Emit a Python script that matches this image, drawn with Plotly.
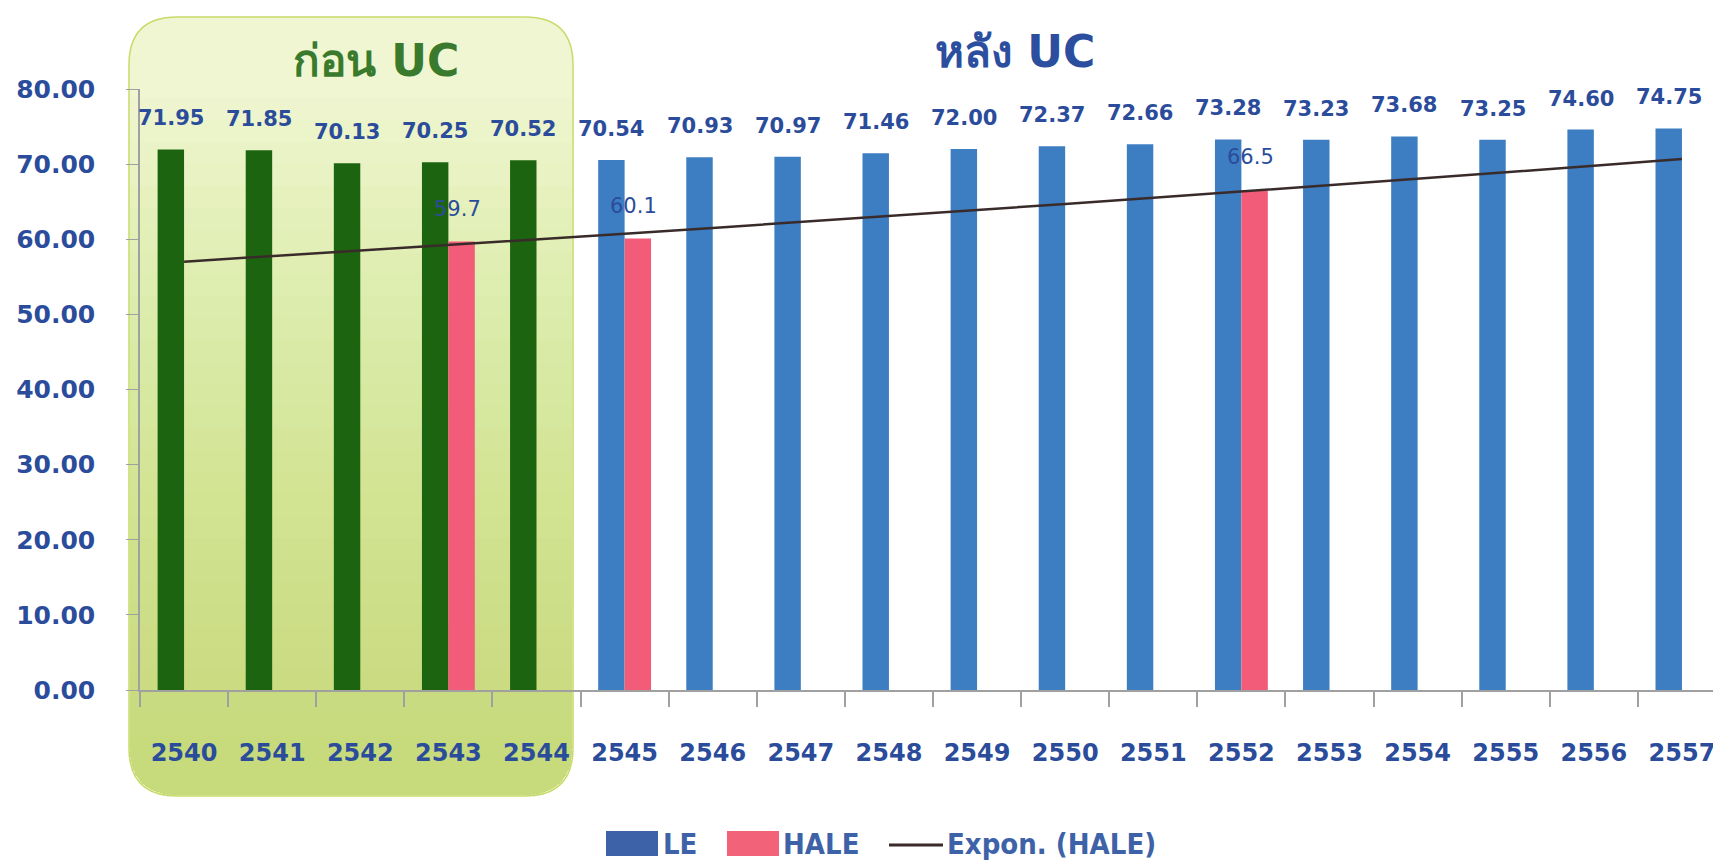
import numpy as np
import plotly.graph_objects as go

# ---------------- data ----------------
years = [str(y) for y in range(2540, 2558)]
le = [71.95, 71.85, 70.13, 70.25, 70.52, 70.54, 70.93, 70.97, 71.46,
      72.00, 72.37, 72.66, 73.28, 73.23, 73.68, 73.25, 74.60, 74.75]
hale = [None, None, None, 59.7, None, 60.1, None, None, None,
        None, None, None, 66.5, None, None, None, None, None]
pre_uc_count = 5          # 2540-2544 = before UC
y_ticks = [0, 10, 20, 30, 40, 50, 60, 70, 80]

# ---------------- style ----------------
W, H = 1721, 863
ML, MR, MT, MB = 132, 3, 81, 181
PW, PH = W - ML - MR, H - MT - MB
BLUE_TXT = "#2b4c9b"
GREEN_BAR = "#1c6410"
BLUE_BAR = "#3d7dc2"
PINK_BAR = "#f25c78"
TREND = "#3a2b2b"
FONT = "DejaVu Sans, Noto Sans, sans-serif"
NARROW = "Liberation Sans Narrow, Arial Narrow, DejaVu Sans Condensed, sans-serif"


def px_x(px):
    return (px - ML) / PW


def px_y(py):
    return (H - MB - py) / PH


# exponential trend line (as Excel's "Expon." trendline) fitted on HALE
idx = np.arange(1, len(years) + 1)
hx = np.array([i for i, v in zip(idx, hale) if v is not None], dtype=float)
hy = np.array([v for v in hale if v is not None], dtype=float)
b, lna = np.polyfit(hx, np.log(hy), 1)
trend = np.exp(lna) * np.exp(b * idx)

le_colors = [GREEN_BAR if i < pre_uc_count else BLUE_BAR for i in range(len(years))]

fig = go.Figure()
fig.add_trace(go.Bar(x=years, y=le, name="LE", marker_color=le_colors,
                     marker_line_width=0, showlegend=False))
fig.add_trace(go.Bar(x=years, y=hale, name="HALE", marker_color=PINK_BAR,
                     marker_line_width=0, showlegend=False))
fig.add_trace(go.Scatter(x=years, y=trend, mode="lines", name="Expon. (HALE)",
                         line=dict(color=TREND, width=2.5), showlegend=False))

annotations = []
for i, v in enumerate(le):
    annotations.append(dict(x=i - 0.15, y=v, xref="x", yref="y", text=f"{v:.2f}",
                            showarrow=False, yshift=31, xanchor="center", yanchor="middle",
                            font=dict(family=FONT, size=21, color=BLUE_TXT, weight="bold")))
for i, v in enumerate(hale):
    if v is None:
        continue
    annotations.append(dict(x=i + 0.1, y=v, xref="x", yref="y", text=f"{v:.1f}",
                            showarrow=False, yshift=33, xanchor="center", yanchor="middle",
                            font=dict(family=FONT, size=21, color=BLUE_TXT)))

# titles
annotations.append(dict(x=px_x(368), y=px_y(52), xref="paper", yref="paper",
                        xanchor="center", yanchor="middle",
                        text="ก่อน UC", showarrow=False,
                        font=dict(family=FONT, size=44, color="#3a7a2c", weight="bold")))
annotations.append(dict(x=px_x(1007), y=px_y(43), xref="paper", yref="paper",
                        xanchor="center", yanchor="middle",
                        text="หลัง UC", showarrow=False,
                        font=dict(family=FONT, size=44, color="#2b4f9e", weight="bold")))

# custom legend
LEG_Y = 836
leg_font = dict(family=NARROW, size=29, color="#3e62a8", weight="bold")
shapes = []


def rounded_rect(l, r, t, bt, rad):
    rx, ry = rad / PW, rad / PH
    L, R, T, B = px_x(l), px_x(r), px_y(t), px_y(bt)
    return (f"M {L+rx},{T} L {R-rx},{T} Q {R},{T} {R},{T-ry} "
            f"L {R},{B+ry} Q {R},{B} {R-rx},{B} L {L+rx},{B} "
            f"Q {L},{B} {L},{B+ry} L {L},{T-ry} Q {L},{T} {L+rx},{T} Z")


def bottom_band(l, r, t, bt, rad):
    rx, ry = rad / PW, rad / PH
    L, R, T, B = px_x(l), px_x(r), px_y(t), px_y(bt)
    return (f"M {L},{T} L {R},{T} L {R},{B+ry} Q {R},{B} {R-rx},{B} "
            f"L {L+rx},{B} Q {L},{B} {L},{B+ry} Z")


RL, RR, RT, RB, RAD = 121, 565, 9, 788, 48
shapes.append(dict(type="path", xref="paper", yref="paper", layer="below",
                   path=rounded_rect(RL, RR, RT, RB, RAD),
                   fillcolor="#f0f6d2", line=dict(color="#c9da6a", width=1.5)))
for k in range(30):
    top = 90 + k * 22
    shapes.append(dict(type="path", xref="paper", yref="paper", layer="below",
                       path=bottom_band(RL + 1, RR - 1, top, RB - 1, RAD),
                       fillcolor="rgba(185,212,70,0.028)", line=dict(width=0)))

# legend swatches
shapes.append(dict(type="rect", xref="paper", yref="paper",
                   x0=px_x(598), x1=px_x(650), y0=px_y(848), y1=px_y(823),
                   fillcolor="#3e62a8", line=dict(width=0)))
shapes.append(dict(type="rect", xref="paper", yref="paper",
                   x0=px_x(719), x1=px_x(771), y0=px_y(848), y1=px_y(823),
                   fillcolor="#f26379", line=dict(width=0)))
shapes.append(dict(type="line", xref="paper", yref="paper",
                   x0=px_x(881), x1=px_x(935), y0=px_y(LEG_Y + 1), y1=px_y(LEG_Y + 1),
                   line=dict(color=TREND, width=3)))
annotations.append(dict(x=px_x(653), y=px_y(LEG_Y), xref="paper", yref="paper", text="LE",
                        showarrow=False, xanchor="left", yanchor="middle", font=leg_font))
annotations.append(dict(x=px_x(773), y=px_y(LEG_Y), xref="paper", yref="paper", text="HALE",
                        showarrow=False, xanchor="left", yanchor="middle", font=leg_font))
annotations.append(dict(x=px_x(937), y=px_y(LEG_Y), xref="paper", yref="paper",
                        text="Expon. (HALE)", showarrow=False, xanchor="left",
                        yanchor="middle", font=leg_font))

fig.update_layout(
    width=W, height=H,
    margin=dict(l=ML, r=MR, t=MT, b=MB),
    paper_bgcolor="white", plot_bgcolor="rgba(0,0,0,0)",
    barmode="group", bargap=0.4, bargroupgap=0,
    showlegend=False,
    annotations=annotations, shapes=shapes,
    font=dict(family=FONT, color=BLUE_TXT),
)
fig.update_xaxes(type="category", range=[-0.5, len(years) - 0.5], showgrid=False,
                 automargin=False, showline=True, linecolor="#a0a0a0",
                 linewidth=2, ticks="outside", tickson="boundaries", ticklen=15,
                 tickcolor="#a0a0a0", tickwidth=1.5, ticklabelstandoff=40, tickangle=0,
                 tickfont=dict(family=FONT, size=24, color=BLUE_TXT, weight="bold"))
fig.update_yaxes(range=[0, 80], tickvals=y_ticks, tickformat=".2f", showgrid=False,
                 automargin=False, zeroline=False, showline=True, linecolor="#a0a0a0",
                 linewidth=1.5, ticks="outside", ticklen=12, tickcolor="#a0a0a0",
                 ticklabelstandoff=26,
                 tickfont=dict(family=FONT, size=25, color=BLUE_TXT, weight="bold"))

fig.write_html("out.html")
